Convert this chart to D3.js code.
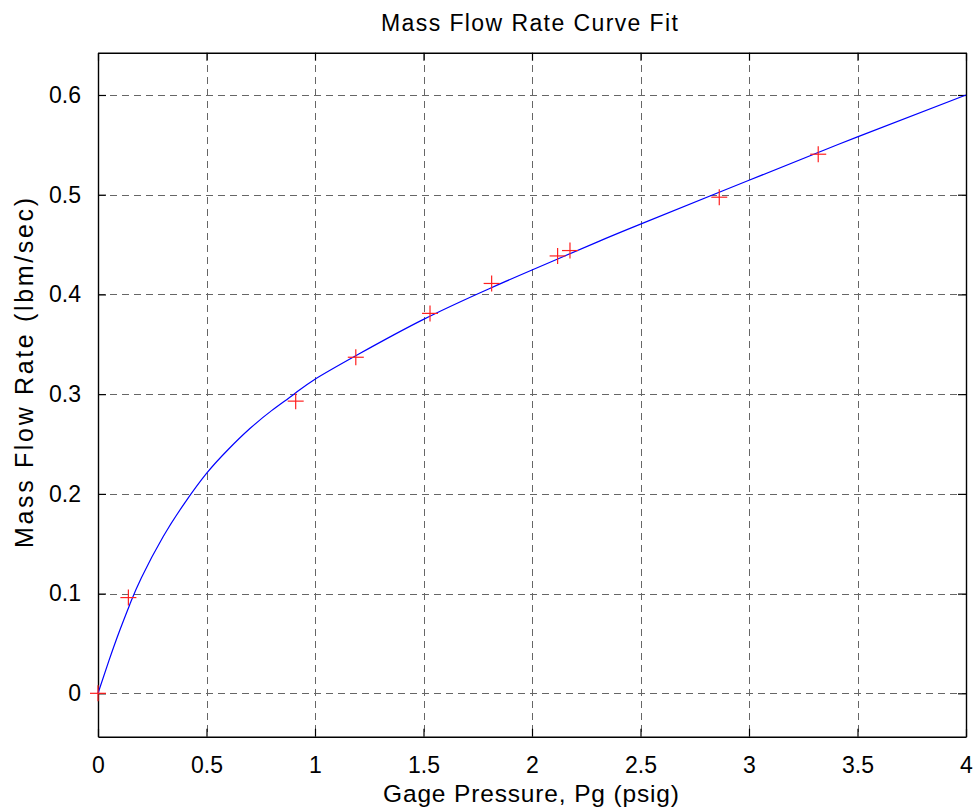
<!DOCTYPE html>
<html>
<head>
<meta charset="utf-8">
<script src="https://cdn.jsdelivr.net/npm/d3@7"></script>
<style>
  html, body { margin: 0; padding: 0; background: #fff; }
  svg { display: block; font-family: "Liberation Sans", Arial, Helvetica, sans-serif; }
</style>
</head>
<body>
<svg id="chart" width="976" height="811"></svg>
<script>
// Measured points: gage pressure (psig) vs mass flow rate (lbm/sec)
const measuredPressure = [0, 0.140, 0.911, 1.188, 1.530, 1.814, 2.118, 2.175, 2.863, 3.319];
const measuredFlow     = [0, 0.096, 0.293, 0.337, 0.381, 0.411, 0.4386, 0.444, 0.4975, 0.5406];

// Fitted curve, sampled along the pressure range
const fitPressure = [0, 0.05, 0.1, 0.15, 0.2, 0.3, 0.4, 0.5, 0.6, 0.7, 0.8, 0.9, 1.0,
                     1.2, 1.5, 1.8, 2.0, 2.3, 2.5, 3.0, 3.5, 4.0];
const fitFlow     = [0, 0.0325, 0.063, 0.091, 0.116, 0.157, 0.191, 0.2205, 0.2445, 0.2655, 0.2835, 0.2995, 0.315,
                     0.340, 0.375, 0.4055, 0.4245, 0.4525, 0.4705, 0.5145, 0.558, 0.600];

const xTicks = [0, 0.5, 1, 1.5, 2, 2.5, 3, 3.5, 4];
const yTicks = [0, 0.1, 0.2, 0.3, 0.4, 0.5, 0.6];
const xTickLabels = ["0", "0.5", "1", "1.5", "2", "2.5", "3", "3.5", "4"];
const yTickLabels = ["0", "0.1", "0.2", "0.3", "0.4", "0.5", "0.6"];

const titleText = "Mass Flow Rate Curve Fit";
const xLabelText = "Gage Pressure, Pg (psig)";
const yLabelText = "Mass Flow Rate (lbm/sec)";

const plot = { left: 98, right: 966, top: 52.7, bottom: 736.7 };

const x = d3.scaleLinear().domain([0, 4]).range([plot.left, plot.right]);
const y = d3.scaleLinear().domain([-0.0435, 0.6424]).range([plot.bottom, plot.top]);

const svg = d3.select("#chart");

// Dashed grid
const grid = svg.append("g").attr("stroke", "#666").attr("stroke-width", 1)
  .attr("stroke-dasharray", "7,5").attr("shape-rendering", "crispEdges");
grid.selectAll("line.v").data(xTicks.filter(t => t > 0 && t < 4)).join("line")
  .attr("x1", d => Math.round(x(d)) + 0.5).attr("x2", d => Math.round(x(d)) + 0.5)
  .attr("y1", plot.top).attr("y2", plot.bottom);
grid.selectAll("line.h").data(yTicks).join("line")
  .attr("y1", d => Math.round(y(d)) + 0.5).attr("y2", d => Math.round(y(d)) + 0.5)
  .attr("x1", plot.left).attr("x2", plot.right);

// Axes with inward ticks on all four sides
const tickLen = 8;
const fmtX = (d, i) => xTickLabels[i];
const fmtY = (d, i) => yTickLabels[i];

const axB = svg.append("g").attr("transform", `translate(0,${plot.bottom})`)
  .call(d3.axisBottom(x).tickValues(xTicks).tickFormat(fmtX).tickSizeInner(-tickLen).tickSizeOuter(0).tickPadding(20));
const axT = svg.append("g").attr("transform", `translate(0,${plot.top})`)
  .call(d3.axisTop(x).tickValues(xTicks).tickFormat("").tickSizeInner(-tickLen).tickSizeOuter(0));
const axL = svg.append("g").attr("transform", `translate(${plot.left},0)`)
  .call(d3.axisLeft(y).tickValues(yTicks).tickFormat(fmtY).tickSizeInner(-tickLen).tickSizeOuter(0).tickPadding(17));
const axR = svg.append("g").attr("transform", `translate(${plot.right},0)`)
  .call(d3.axisRight(y).tickValues(yTicks).tickFormat("").tickSizeInner(-tickLen).tickSizeOuter(0));

[axB, axT, axL, axR].forEach(a => {
  a.select(".domain").attr("stroke", "#000").attr("stroke-width", 1.4);
  a.selectAll(".tick line").attr("stroke", "#000").attr("stroke-width", 1.2);
  a.selectAll("text").attr("fill", "#000").attr("font-size", 23)
    .attr("font-family", "'Liberation Sans', Arial, sans-serif");
});
axB.selectAll("text").attr("dy", "0.71em");

// Fitted curve
const line = d3.line().x((d, i) => x(fitPressure[i])).y((d, i) => y(fitFlow[i])).curve(d3.curveNatural);
svg.append("path").datum(fitPressure).attr("d", line)
  .attr("fill", "none").attr("stroke", "#0000ff").attr("stroke-width", 1.2);

// Measured points as red plus markers
const m = 8;
const marks = svg.append("g").attr("stroke", "#ff2020").attr("stroke-width", 1.2);
measuredPressure.forEach((p, i) => {
  const cx = x(p), cy = y(measuredFlow[i]);
  marks.append("line").attr("x1", cx - m).attr("x2", cx + m).attr("y1", cy).attr("y2", cy);
  marks.append("line").attr("x1", cx).attr("x2", cx).attr("y1", cy - m).attr("y2", cy + m);
});

// Titles
svg.append("text").attr("x", 529.5).attr("y", 31)
  .attr("text-anchor", "middle").attr("font-size", 23)
  .attr("textLength", 297).attr("lengthAdjust", "spacing").text(titleText);
svg.append("text").attr("x", 531).attr("y", 802)
  .attr("text-anchor", "middle").attr("font-size", 24.5)
  .attr("textLength", 296).attr("lengthAdjust", "spacing").text(xLabelText);
svg.append("text").attr("transform", `translate(33,373) rotate(-90)`)
  .attr("text-anchor", "middle").attr("font-size", 25)
  .attr("textLength", 350).attr("lengthAdjust", "spacing").text(yLabelText);
</script>
</body>
</html>
